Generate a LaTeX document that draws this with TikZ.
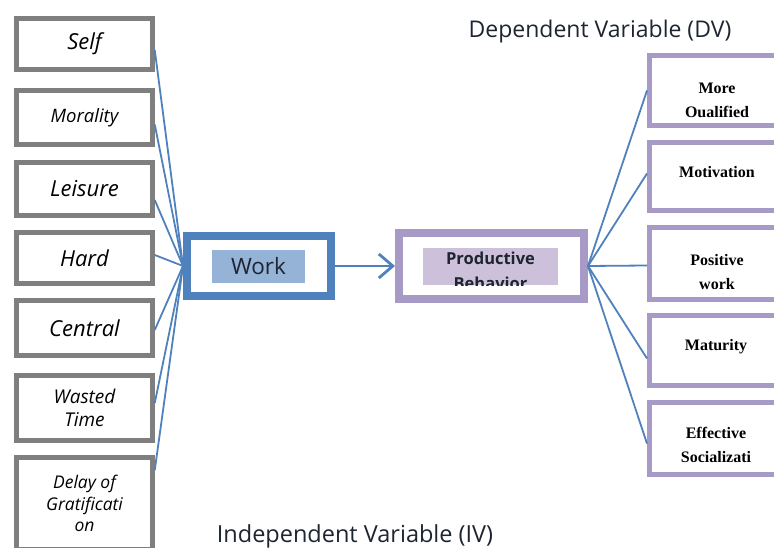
\documentclass[tikz,border=0pt]{standalone}
\usepackage{fontspec}
\setmainfont{Open Sans}
\newfontfamily\timesb{Liberation Serif}
\usetikzlibrary{arrows.meta}
\definecolor{boxgray}{RGB}{127,127,127}
\definecolor{workblue}{RGB}{79,129,189}
\definecolor{workfill}{RGB}{149,179,215}
\definecolor{prodpurple}{RGB}{168,154,198}
\definecolor{prodfill}{RGB}{204,192,218}
\definecolor{darktext}{RGB}{30,36,48}
\newcommand{\fs}[1]{\fontsize{#1}{1.2\dimexpr#1pt\relax}\selectfont}
\tikzset{>=latex,
  ivbox/.style={draw=boxgray, line width=4.5pt, minimum width=136pt, inner sep=0pt, align=center, font=\itshape\fs{22}},
  dvbox/.style={draw=prodpurple, line width=5pt, minimum width=138pt, inner sep=0pt},
  dvtext/.style={align=center, font=\timesb\bfseries\fontsize{16}{24}\selectfont},
  link/.style={draw=workblue, line width=1.8pt}}
\begin{document}
\begin{tikzpicture}[x=1pt, y=-1pt]
    \useasboundingbox (0,0) rectangle (774,548);
    % independent variables
    \node[ivbox, minimum height=51](self) at (84.5,44){Self};
    \node[ivbox, minimum height=54, font=\itshape\fs{18.5}](morality) at (84.5,117.5){Morality};
    \node[ivbox, minimum height=53](leisure) at (84.5,189){Leisure};
    \node[ivbox, minimum height=51](hard) at (84.5,258){Hard};
    \node[ivbox, minimum height=55](central) at (84.5,328){Central};
    \node[ivbox, minimum height=65, font=\itshape\fontsize{19}{23}\selectfont](wasted) at (84.5,408){Wasted\\Time};
    \node[ivbox, minimum height=92, font=\itshape\fontsize{17.5}{21.5}\selectfont](delay) at (84.5,503.5){Delay of\\Gratificati\\on};
    % work and productive behavior
    \node[draw=workblue, line width=8pt, minimum width=144, minimum height=60](work) at (259,266){};
    \node[fill=workfill, minimum width=93, minimum height=33, inner sep=0pt, text=darktext, font=\fs{22.5}](worktext) at (258.5,266.5){Work};
    \node[draw=prodpurple, line width=8pt, minimum width=185, minimum height=66](prod) at (491.5,266){};
    \node[fill=prodfill, minimum width=135, minimum height=37, inner sep=0pt](prodfill) at (490.5,266.5){};
    \begin{scope}
        \clip (prodfill.south west) rectangle (prodfill.north east);
        \node[align=center, text=darktext, font=\bfseries\fontsize{16.5}{25}\selectfont](prodtext) at (490.5,271){Productive\\Behavior};
    \end{scope}
    \draw[workblue, line width=2.8pt, -{Straight Barb[length=14pt, width=24pt]}](work.east) -- (prod.west);
    % dependent variables
    \node[dvbox, minimum height=70](qualified) at (718.5,90.5){};
    \node[dvbox, minimum height=68](motivation) at (718.5,176.5){};
    \node[dvbox, minimum height=72](positive) at (718.5,263.5){};
    \node[dvbox, minimum height=70](maturity) at (718.5,350.5){};
    \node[dvbox, minimum height=72](social) at (718.5,438.5){};
    \node[dvtext](qualifiedtext) at (717,100){More\\Oualified};
    \node[dvtext](motivationtext) at (717,172){Motivation};
    \node[dvtext](positivetext) at (717,272){Positive\\work};
    \node[dvtext](maturitytext) at (716,347){Maturity};
    \node[dvtext](socialtext) at (716,445){Effective\\Socializati};
    % connectors
    \foreach \n/\s in {self/-6, morality/-7, leisure/-11, hard/3, central/-2, wasted/5}
        \draw[link]([yshift=\s pt]\n.east) -- (work.west);
    \draw[link]([yshift=-15pt]delay.north east) -- (work.west);
    \foreach \n/\s in {qualified/0, motivation/3, positive/-2, maturity/-8, social/-5}
        \draw[link](prod.east) -- ([yshift=\s pt]\n.west);
    % labels
    \node[font=\fs{23}, text=darktext](dvlabel) at (600,32){Dependent Variable (DV)};
    \node[font=\fs{23.5}, text=darktext](ivlabel) at (355,536){Independent Variable (IV)};
\end{tikzpicture}
\end{document}
